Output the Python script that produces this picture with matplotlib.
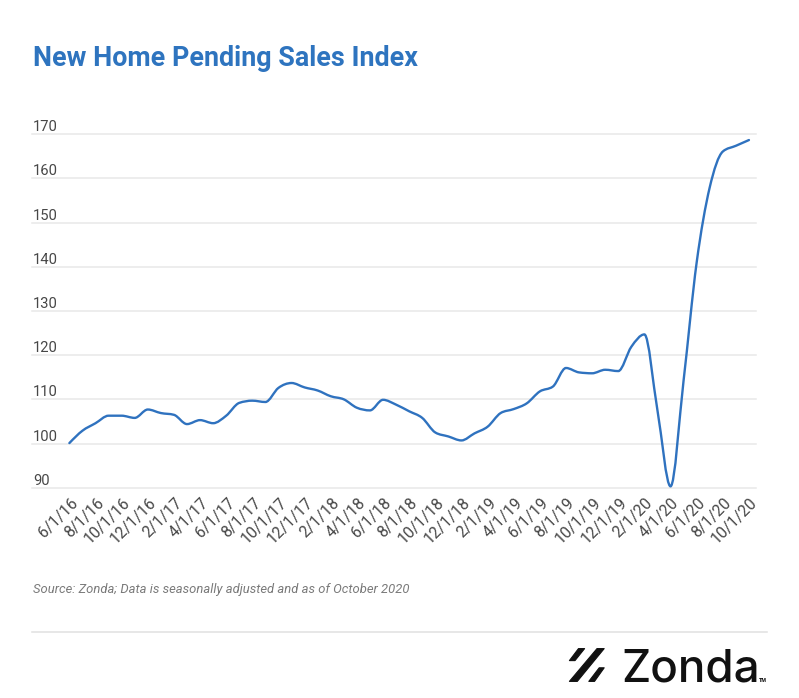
import numpy as np
import matplotlib
matplotlib.use("Agg")
import matplotlib.pyplot as plt
from matplotlib.path import Path
from matplotlib.patches import PathPatch, Polygon
from matplotlib import transforms

# ---------------- data ----------------
months = [
    "6/1/16", "7/1/16", "8/1/16", "9/1/16", "10/1/16", "11/1/16", "12/1/16",
    "1/1/17", "2/1/17", "3/1/17", "4/1/17", "5/1/17", "6/1/17", "7/1/17",
    "8/1/17", "9/1/17", "10/1/17", "11/1/17", "12/1/17",
    "1/1/18", "2/1/18", "3/1/18", "4/1/18", "5/1/18", "6/1/18", "7/1/18",
    "8/1/18", "9/1/18", "10/1/18", "11/1/18", "12/1/18",
    "1/1/19", "2/1/19", "3/1/19", "4/1/19", "5/1/19", "6/1/19", "7/1/19",
    "8/1/19", "9/1/19", "10/1/19", "11/1/19", "12/1/19",
    "1/1/20", "2/1/20", "3/1/20", "4/1/20", "5/1/20", "6/1/20", "7/1/20",
    "8/1/20", "9/1/20", "10/1/20",
]
index_values = [
    100.1, 102.9, 104.6, 106.3, 106.3, 105.8, 107.7,
    106.9, 106.5, 104.4, 105.3, 104.6, 106.3, 109.2,
    109.7, 109.4, 112.6, 113.7, 112.7,
    112.0, 110.7, 110.0, 108.1, 107.5, 109.9, 108.8,
    107.3, 105.8, 102.5, 101.6, 100.7,
    102.3, 103.8, 106.9, 107.8, 109.1, 111.8, 112.9,
    117.1, 116.1, 115.9, 116.7, 116.4,
    121.9, 124.7, 107.5, 90.3, 114.3, 141.0, 158.0,
    166.1, 167.4, 168.7,
]
y_ticks = [90, 100, 110, 120, 130, 140, 150, 160, 170]
x_tick_labels = months[::2]

title = "New Home Pending Sales Index"
source = "Source: Zonda; Data is seasonally adjusted and as of October 2020"

# ---------------- style ----------------
W, H = 799, 698
line_color = "#2f72bf"
title_color = "#2e74bf"
grid_color = "#e8e8e8"
label_color = "#474747"

fig = plt.figure(figsize=(W / 100, H / 100), dpi=100)
fig.patch.set_facecolor("white")

left_px, right_px = 32, 756
top_px, bot_px = 134.3, 487.7
ax = fig.add_axes([left_px / W, (H - bot_px) / H,
                   (right_px - left_px) / W, (bot_px - top_px) / H])
ax.set_facecolor("none")
for s in ax.spines.values():
    s.set_visible(False)

x = np.arange(len(index_values), dtype=float)
y = np.asarray(index_values, dtype=float)
ax.set_xlim(-2.86, 52.54)
ax.set_ylim(y_ticks[0], y_ticks[-1])

# gridlines and y labels (labels sit just above their gridline)
for v in y_ticks:
    ax.axhline(v, color=grid_color, lw=1.1, zorder=1, clip_on=False)
    ax.annotate(str(v), xy=(0, v), xycoords=("axes fraction", "data"),
                xytext=(1, 3), textcoords="offset pixels",
                ha="left", va="baseline", fontsize=10.6, color=label_color,
                family="Roboto")
ax.set_yticks([])


# monotone-x cubic curve (d3 curveMonotoneX style) through the data
def monotone_tangents(xs, ys):
    n = len(xs)
    t = np.zeros(n)
    h = np.diff(xs)
    s = np.diff(ys) / h
    for i in range(1, n - 1):
        s0, s1 = s[i - 1], s[i]
        p = (s0 * h[i] + s1 * h[i - 1]) / (h[i - 1] + h[i])
        t[i] = (np.sign(s0) + np.sign(s1)) * min(abs(s0), abs(s1), 0.5 * abs(p))
    t[0] = (3 * s[0] - t[1]) / 2
    t[-1] = (3 * s[-1] - t[-2]) / 2
    return t


tang = monotone_tangents(x, y)
verts = [(x[0], y[0])]
codes = [Path.MOVETO]
for i in range(len(x) - 1):
    dx = (x[i + 1] - x[i]) / 3
    verts += [(x[i] + dx, y[i] + tang[i] * dx),
              (x[i + 1] - dx, y[i + 1] - tang[i + 1] * dx),
              (x[i + 1], y[i + 1])]
    codes += [Path.CURVE4] * 3
patch = PathPatch(Path(verts, codes), facecolor="none", edgecolor=line_color,
                  lw=1.7, zorder=3, clip_on=False, capstyle="round",
                  joinstyle="round")
ax.add_patch(patch)

ax.set_xticks(x[::2])
ax.set_xticklabels(x_tick_labels, rotation=45, ha="right",
                   rotation_mode="anchor", va="center",
                   fontsize=11.4, color=label_color, family="Roboto")
ax.tick_params(axis="x", length=0, pad=9)
offset = transforms.ScaledTranslation(6 / 100, 0, fig.dpi_scale_trans)
for lab in ax.get_xticklabels():
    lab.set_transform(lab.get_transform() + offset)

# ---------------- overlay (title, source, logo) ----------------
ov = fig.add_axes([0, 0, 1, 1])
ov.set_xlim(0, W)
ov.set_ylim(H, 0)
ov.axis("off")
ov.patch.set_visible(False)

ov.text(33, 66, title, fontsize=19.4, fontweight="bold", color=title_color,
        family="Roboto", va="baseline", ha="left")
ov.text(33, 593, source, fontsize=9.4, style="italic", color="#7a7a7a",
        family="Roboto", va="baseline", ha="left")
ov.plot([32, 767], [631.5, 631.5], color="#e0e0e0", lw=1.1)

# logo
ov.text(621, 682, "Zonda", fontsize=33, fontweight="medium", color="#111111",
        family="Inter", va="baseline", ha="left")
ov.text(758.5, 681.5, "TM", fontsize=3.6, fontweight="bold", color="#111111",
        family="Inter", va="baseline", ha="left")
icon = [
    [(578.5, 648.6), (584.6, 648.6), (575.0, 660.6), (569.4, 660.6)],
    [(597.0, 648.6), (604.2, 648.6), (577.3, 681.4), (569.4, 681.4)],
    [(599.2, 667.8), (604.2, 667.8), (594.5, 681.4), (588.8, 681.4)],
]
for pts in icon:
    ov.add_patch(Polygon(pts, closed=True, facecolor="#111111",
                         edgecolor="#111111", lw=0.8, joinstyle="round"))

fig.savefig("out.png", dpi=100, facecolor="white")
